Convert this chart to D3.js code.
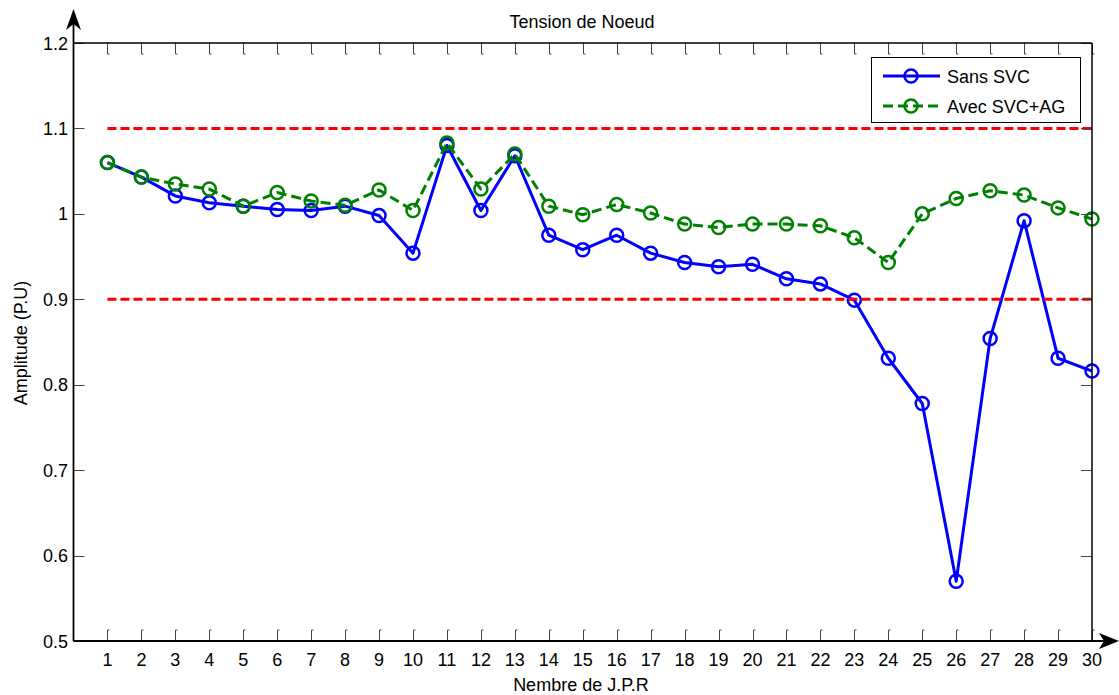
<!DOCTYPE html>
<html>
<head>
<meta charset="utf-8">
<script src="https://cdn.jsdelivr.net/npm/d3@7"></script>
<style>
  html, body { margin: 0; padding: 0; background: #fff; }
  svg { display: block; }
  text { font-family: "Liberation Sans", Arial, Helvetica, sans-serif; fill: #000; }
</style>
</head>
<body>
<svg id="chart" width="1119" height="695"></svg>
<script>
// ---- data ----
const categories = [1,2,3,4,5,6,7,8,9,10,11,12,13,14,15,16,17,18,19,20,21,22,23,24,25,26,27,28,29,30];
const sansSVC = [1.060, 1.043, 1.021, 1.013, 1.009, 1.005, 1.004, 1.009, 0.998, 0.954,
                 1.080, 1.004, 1.068, 0.975, 0.958, 0.975, 0.954, 0.943, 0.938, 0.941,
                 0.924, 0.918, 0.899, 0.831, 0.778, 0.570, 0.854, 0.992, 0.831, 0.816];
const avecSVCAG = [1.060, 1.043, 1.035, 1.029, 1.009, 1.025, 1.015, 1.010, 1.028, 1.004,
                   1.083, 1.029, 1.070, 1.009, 0.999, 1.011, 1.001, 0.988, 0.984, 0.988,
                   0.988, 0.986, 0.972, 0.943, 1.000, 1.018, 1.027, 1.022, 1.007, 0.994];
const yTicks = [0.5, 0.6, 0.7, 0.8, 0.9, 1.0, 1.1, 1.2];
const yTickLabels = ["0.5", "0.6", "0.7", "0.8", "0.9", "1", "1.1", "1.2"];
const limitValues = [0.9, 1.1];
const xDomain = [0, 30];
const yDomain = [0.5, 1.2];
const seriesNames = ["Sans SVC", "Avec SVC+AG"];
const titleText = "Tension de Noeud";
const xLabelText = "Nembre de J.P.R";
const yLabelText = "Amplitude (P.U)";

// ---- layout ----
const L = 73.5, R = 1092, T = 43, B = 641;
const svg = d3.select("#chart");
const x = d3.scaleLinear().domain(xDomain).range([L, R]);
const y = d3.scaleLinear().domain(yDomain).range([B, T]);
const FS = 18;

// ---- series ----
const series = [
  { name: seriesNames[0], values: sansSVC, color: "#0000ff", dash: null },
  { name: seriesNames[1], values: avecSVCAG, color: "#008000", dash: "10,5" }
];
const lineGen = d3.line().x(d => x(d[0])).y(d => y(d[1]));

series.forEach(s => {
  const pts = categories.map((c, i) => [c, s.values[i]]);
  svg.append("path")
    .attr("d", lineGen(pts))
    .attr("fill", "none")
    .attr("stroke", s.color)
    .attr("stroke-width", 3)
    .attr("stroke-linejoin", "round")
    .attr("stroke-dasharray", s.dash);
  svg.append("g").selectAll("circle").data(pts).join("circle")
    .attr("cx", d => x(d[0])).attr("cy", d => y(d[1]))
    .attr("r", 6.5)
    .attr("fill", "none")
    .attr("stroke", s.color)
    .attr("stroke-width", 2.5);
});

// ---- limit lines ----
limitValues.forEach(v => {
  svg.append("line")
    .attr("x1", x(categories[0])).attr("x2", x(categories[categories.length - 1]))
    .attr("y1", y(v)).attr("y2", y(v))
    .attr("stroke", "#ff0000").attr("stroke-width", 3)
    .attr("stroke-dasharray", "9,4");
});

// ---- axes box & ticks ----
const tickLen = 11;
const tickG = svg.append("g").attr("stroke", "#444").attr("stroke-width", 1).attr("fill", "none");
categories.forEach(c => {
  const px = Math.round(x(c)) + 0.5;
  tickG.append("path").attr("d", `M${px},${B} V${B - tickLen} h2`);
  tickG.append("path").attr("d", `M${px},${T} V${T + tickLen} h2`);
});
yTicks.forEach(v => {
  const py = Math.round(y(v)) + 0.5;
  tickG.append("path").attr("d", `M${L},${py} H${L + tickLen}`);
  tickG.append("path").attr("d", `M${R},${py} H${R - tickLen}`);
});

// box
svg.append("line").attr("x1", L).attr("x2", R).attr("y1", T).attr("y2", T).attr("stroke", "#000").attr("stroke-width", 1.5);
svg.append("line").attr("x1", R).attr("x2", R).attr("y1", T).attr("y2", B).attr("stroke", "#000").attr("stroke-width", 1.5);
// y axis with arrow
svg.append("line").attr("x1", L).attr("x2", L).attr("y1", B).attr("y2", 14).attr("stroke", "#000").attr("stroke-width", 1.8);
svg.append("path").attr("d", `M${L},9 L${L + 7.5},30 L${L},24 L${L - 7.5},30 Z`).attr("fill", "#000");
// x axis with arrow
svg.append("line").attr("x1", L).attr("x2", 1114).attr("y1", B).attr("y2", B).attr("stroke", "#000").attr("stroke-width", 1.8);
svg.append("path").attr("d", `M1119,${B} L1099,${B - 8} L1104,${B} L1099,${B + 8} Z`).attr("fill", "#000");

// tick labels
svg.append("g").selectAll("text").data(categories).join("text")
  .attr("x", d => x(d)).attr("y", 666)
  .attr("text-anchor", "middle").attr("font-size", FS)
  .text(d => d);
svg.append("g").selectAll("text").data(yTicks).join("text")
  .attr("x", 68).attr("y", d => y(d) + 6.5)
  .attr("text-anchor", "end").attr("font-size", FS)
  .text((d, i) => yTickLabels[i]);

// titles
svg.append("text").attr("x", 582).attr("y", 28).attr("text-anchor", "middle").attr("font-size", FS).text(titleText);
svg.append("text").attr("x", 581).attr("y", 691).attr("text-anchor", "middle").attr("font-size", FS).text(xLabelText);
svg.append("text").attr("transform", "translate(27,343) rotate(-90)").attr("text-anchor", "middle").attr("font-size", FS).text(yLabelText);

// ---- legend ----
const lg = svg.append("g");
lg.append("rect").attr("x", 871.5).attr("y", 57.5).attr("width", 209).attr("height", 65)
  .attr("fill", "#fff").attr("stroke", "#000").attr("stroke-width", 1);
series.forEach((s, i) => {
  const ly = 76 + i * 30;
  lg.append("line").attr("x1", 883).attr("x2", 940).attr("y1", ly).attr("y2", ly)
    .attr("stroke", s.color).attr("stroke-width", 3).attr("stroke-dasharray", s.dash);
  lg.append("circle").attr("cx", 911).attr("cy", ly).attr("r", 6.5)
    .attr("fill", "none").attr("stroke", s.color).attr("stroke-width", 2.5);
  lg.append("text").attr("x", 947).attr("y", ly + 6.5).attr("font-size", FS).text(s.name);
});
</script>
</body>
</html>
